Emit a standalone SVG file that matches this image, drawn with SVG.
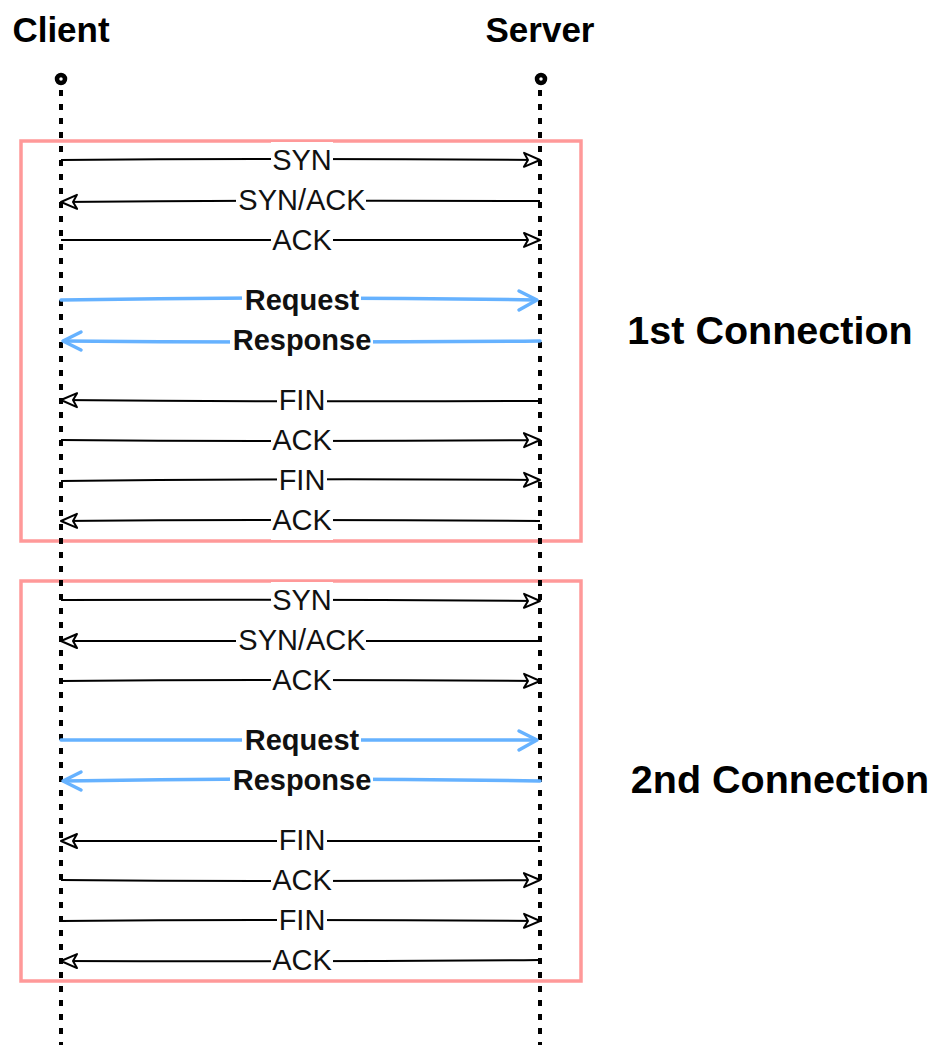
<svg xmlns="http://www.w3.org/2000/svg" width="944" height="1060" viewBox="0 0 944 1060">
<style>
.title{font-family:"Liberation Sans",Arial,Helvetica,sans-serif;font-weight:bold;font-size:35px;fill:#000;text-anchor:middle}
.conn{font-family:"Liberation Sans",Arial,Helvetica,sans-serif;font-weight:bold;font-size:39.5px;fill:#000;text-anchor:middle}
.lbl{font-family:"Liberation Sans",Arial,Helvetica,sans-serif;font-size:29px;fill:#111;text-anchor:middle;dominant-baseline:central}
.lblb{font-family:"Liberation Sans",Arial,Helvetica,sans-serif;font-size:29px;font-weight:bold;fill:#111;text-anchor:middle;dominant-baseline:central}
.life{stroke:#000;stroke-width:4;stroke-dasharray:6 8;fill:none}
.box{fill:none;stroke:#FF9999;stroke-width:3.5}
.msg{stroke:#000;stroke-width:2;fill:none}
.blue{stroke:#66B2FF;stroke-width:3.5;fill:none;stroke-linecap:round;stroke-linejoin:round}
.bg{fill:#fff}
</style>
<defs>
<marker id="ah" markerUnits="userSpaceOnUse" markerWidth="24" markerHeight="20" refX="0" refY="0" viewBox="-20 -10 24 20" orient="auto" overflow="visible">
<path d="M0,0 L-16,-7 L-12,0 L-16,7 Z" fill="#fff" stroke="#000" stroke-width="2" stroke-linejoin="round"/>
</marker>
</defs>

<g id="box1"><rect class="box" x="21" y="141" width="560" height="400"/></g>
<g id="box2"><rect class="box" x="21" y="581" width="560" height="400"/></g>

<g id="client">
<text class="title" x="61" y="42">Client</text>
<line class="life" x1="61" y1="90" x2="61" y2="1045"/>
<circle cx="61" cy="79" r="4" fill="#fff" stroke="#000" stroke-width="4.5"/>
</g>
<g id="server">
<text class="title" x="540" y="42">Server</text>
<line class="life" x1="540" y1="90" x2="540" y2="1045"/>
<circle cx="541" cy="79" r="4" fill="#fff" stroke="#000" stroke-width="4.5"/>
</g>

<g id="label1"><text class="conn" x="770" y="344">1st Connection</text></g>
<g id="label2"><text class="conn" x="780" y="793">2nd Connection</text></g>

<g id="connectors">
<path class="msg" d="M61,160 Q300,158 540,160" marker-end="url(#ah)"/>
<path class="msg" d="M540,201 Q300,200 61,202" marker-end="url(#ah)"/>
<path class="msg" d="M61,240 Q300,239 540,240" marker-end="url(#ah)"/>
<path class="blue" d="M61,300 Q300,296 536,300"/>
<polyline class="blue" points="519,291 537,300 519,310"/>
<path class="blue" d="M540,341 Q300,343 64,341"/>
<polyline class="blue" points="81,332 63,341 81,350"/>
<path class="msg" d="M540,401 Q300,402 61,400" marker-end="url(#ah)"/>
<path class="msg" d="M61,440 Q300,442 540,440" marker-end="url(#ah)"/>
<path class="msg" d="M61,481 Q300,478 540,480" marker-end="url(#ah)"/>
<path class="msg" d="M540,521 Q300,519 61,521" marker-end="url(#ah)"/>
<path class="msg" d="M61,600 Q300,599 540,601" marker-end="url(#ah)"/>
<path class="msg" d="M540,641 Q300,641 61,641" marker-end="url(#ah)"/>
<path class="msg" d="M61,681 Q300,679 540,681" marker-end="url(#ah)"/>
<path class="blue" d="M61,740 Q300,741 536,740"/>
<polyline class="blue" points="519,731 537,740 519,750"/>
<path class="blue" d="M540,781 Q300,777 64,781"/>
<polyline class="blue" points="81,772 63,781 81,790"/>
<path class="msg" d="M540,841 Q300,841 61,841" marker-end="url(#ah)"/>
<path class="msg" d="M61,880 Q300,882 540,880" marker-end="url(#ah)"/>
<path class="msg" d="M61,921 Q300,919 540,921" marker-end="url(#ah)"/>
<path class="msg" d="M540,960 Q300,962 61,961" marker-end="url(#ah)"/>

<rect class="bg" x="271" y="142" width="62" height="36"/>
<rect class="bg" x="236" y="182" width="130" height="36"/>
<rect class="bg" x="271" y="222" width="62" height="36"/>
<rect class="bg" x="242" y="282" width="119" height="36"/>
<rect class="bg" x="230" y="322" width="143" height="36"/>
<rect class="bg" x="277" y="382" width="50" height="36"/>
<rect class="bg" x="271" y="422" width="62" height="36"/>
<rect class="bg" x="277" y="462" width="50" height="36"/>
<rect class="bg" x="271" y="502" width="62" height="38"/>
<rect class="bg" x="271" y="582" width="62" height="36"/>
<rect class="bg" x="236" y="622" width="130" height="36"/>
<rect class="bg" x="271" y="662" width="62" height="36"/>
<rect class="bg" x="242" y="722" width="119" height="36"/>
<rect class="bg" x="230" y="762" width="143" height="36"/>
<rect class="bg" x="277" y="822" width="50" height="36"/>
<rect class="bg" x="271" y="862" width="62" height="36"/>
<rect class="bg" x="277" y="902" width="50" height="36"/>
<rect class="bg" x="271" y="942" width="62" height="36"/>

<text class="lbl" x="302" y="160">SYN</text>
<text class="lbl" x="302" y="200">SYN/ACK</text>
<text class="lbl" x="302" y="240">ACK</text>
<text class="lblb" x="302" y="300">Request</text>
<text class="lblb" x="302" y="340">Response</text>
<text class="lbl" x="302" y="400">FIN</text>
<text class="lbl" x="302" y="440">ACK</text>
<text class="lbl" x="302" y="480">FIN</text>
<text class="lbl" x="302" y="520">ACK</text>
<text class="lbl" x="302" y="600">SYN</text>
<text class="lbl" x="302" y="640">SYN/ACK</text>
<text class="lbl" x="302" y="680">ACK</text>
<text class="lblb" x="302" y="740">Request</text>
<text class="lblb" x="302" y="780">Response</text>
<text class="lbl" x="302" y="840">FIN</text>
<text class="lbl" x="302" y="880">ACK</text>
<text class="lbl" x="302" y="920">FIN</text>
<text class="lbl" x="302" y="960">ACK</text>
</g>
</svg>
